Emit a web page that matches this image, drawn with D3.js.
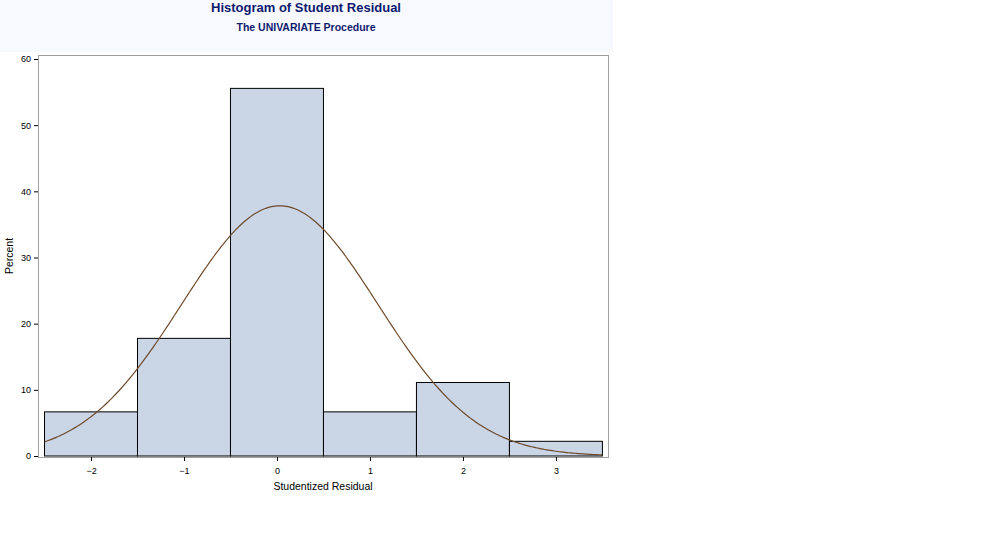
<!DOCTYPE html>
<html><head><meta charset="utf-8">
<script src="https://cdn.jsdelivr.net/npm/d3@7"></script>
<style>body{margin:0;background:#fff}text{font-family:"Liberation Sans",Arial,sans-serif}</style>
</head><body><svg id="c" width="992" height="551"></svg>
<script>
const binStarts=[-2.5,-1.5,-0.5,0.5,1.5,2.5];
const binWidth=1;
const percents=[6.67,17.78,55.56,6.67,11.11,2.22];
const xTicks=[-2,-1,0,1,2,3];
const yTicks=[0,10,20,30,40,50,60];
const fitMean=0.03, fitSigma=1.055;

const svg=d3.select("#c");
svg.append("rect").attr("x",0).attr("y",0).attr("width",613).attr("height",52).attr("fill","#f8f9ff");
svg.append("text").attr("x",306).attr("y",12).attr("text-anchor","middle").attr("font-size",13).attr("font-weight","bold").attr("fill","#0f1a6e").text("Histogram of Student Residual");
svg.append("text").attr("x",306).attr("y",31).attr("text-anchor","middle").attr("font-size",10.5).attr("font-weight","bold").attr("fill","#0f1a6e").text("The UNIVARIATE Procedure");

const L=38,R=608,T=55,B=457;
const x=d3.scale?null:null;
const xs=d3.scaleLinear().domain([-2.57,3.56]).range([L,R]);
const ys=d3.scaleLinear().domain([0,60]).range([456,59]);
svg.append("rect").attr("x",L+0.5).attr("y",T+0.5).attr("width",R-L).attr("height",B-T).attr("fill","none").attr("stroke","#a0a0a0");

svg.selectAll("rect.bar").data(percents).enter().append("rect").attr("class","bar")
 .attr("x",(d,i)=>xs(binStarts[i])).attr("width",(d,i)=>xs(binStarts[i]+binWidth)-xs(binStarts[i]))
 .attr("y",d=>ys(d)).attr("height",d=>ys(0)-ys(d))
 .attr("fill","#cad5e5").attr("stroke","#000").attr("stroke-width",1);

const pts=d3.range(-2.5,3.5001,0.02).map(v=>[v,100*binWidth/(fitSigma*Math.sqrt(2*Math.PI))*Math.exp(-0.5*((v-fitMean)/fitSigma)**2)]);
svg.append("path").attr("d",d3.line().x(d=>xs(d[0])).y(d=>ys(d[1]))(pts)).attr("fill","none").attr("stroke","#6e4a2a").attr("stroke-width",1.2);

const xa=svg.append("g").attr("transform",`translate(0,${B})`).call(d3.axisBottom(xs).tickValues(xTicks).tickSize(4).tickFormat(d3.format("d")));
const ya=svg.append("g").attr("transform",`translate(${L},0)`).call(d3.axisLeft(ys).tickValues(yTicks).tickSize(4));
[xa,ya].forEach(a=>{a.select(".domain").remove();a.selectAll("line").attr("stroke","#000");a.selectAll("text").attr("font-size",9).attr("fill","#000").style("font-family","Liberation Sans, Arial");});
xa.selectAll("text").attr("dy","1.1em");
svg.append("text").attr("x",323).attr("y",490).attr("text-anchor","middle").attr("font-size",10.5).text("Studentized Residual");
svg.append("text").attr("transform","translate(13,256) rotate(-90)").attr("text-anchor","middle").attr("font-size",10.5).text("Percent");
</script></body></html>
